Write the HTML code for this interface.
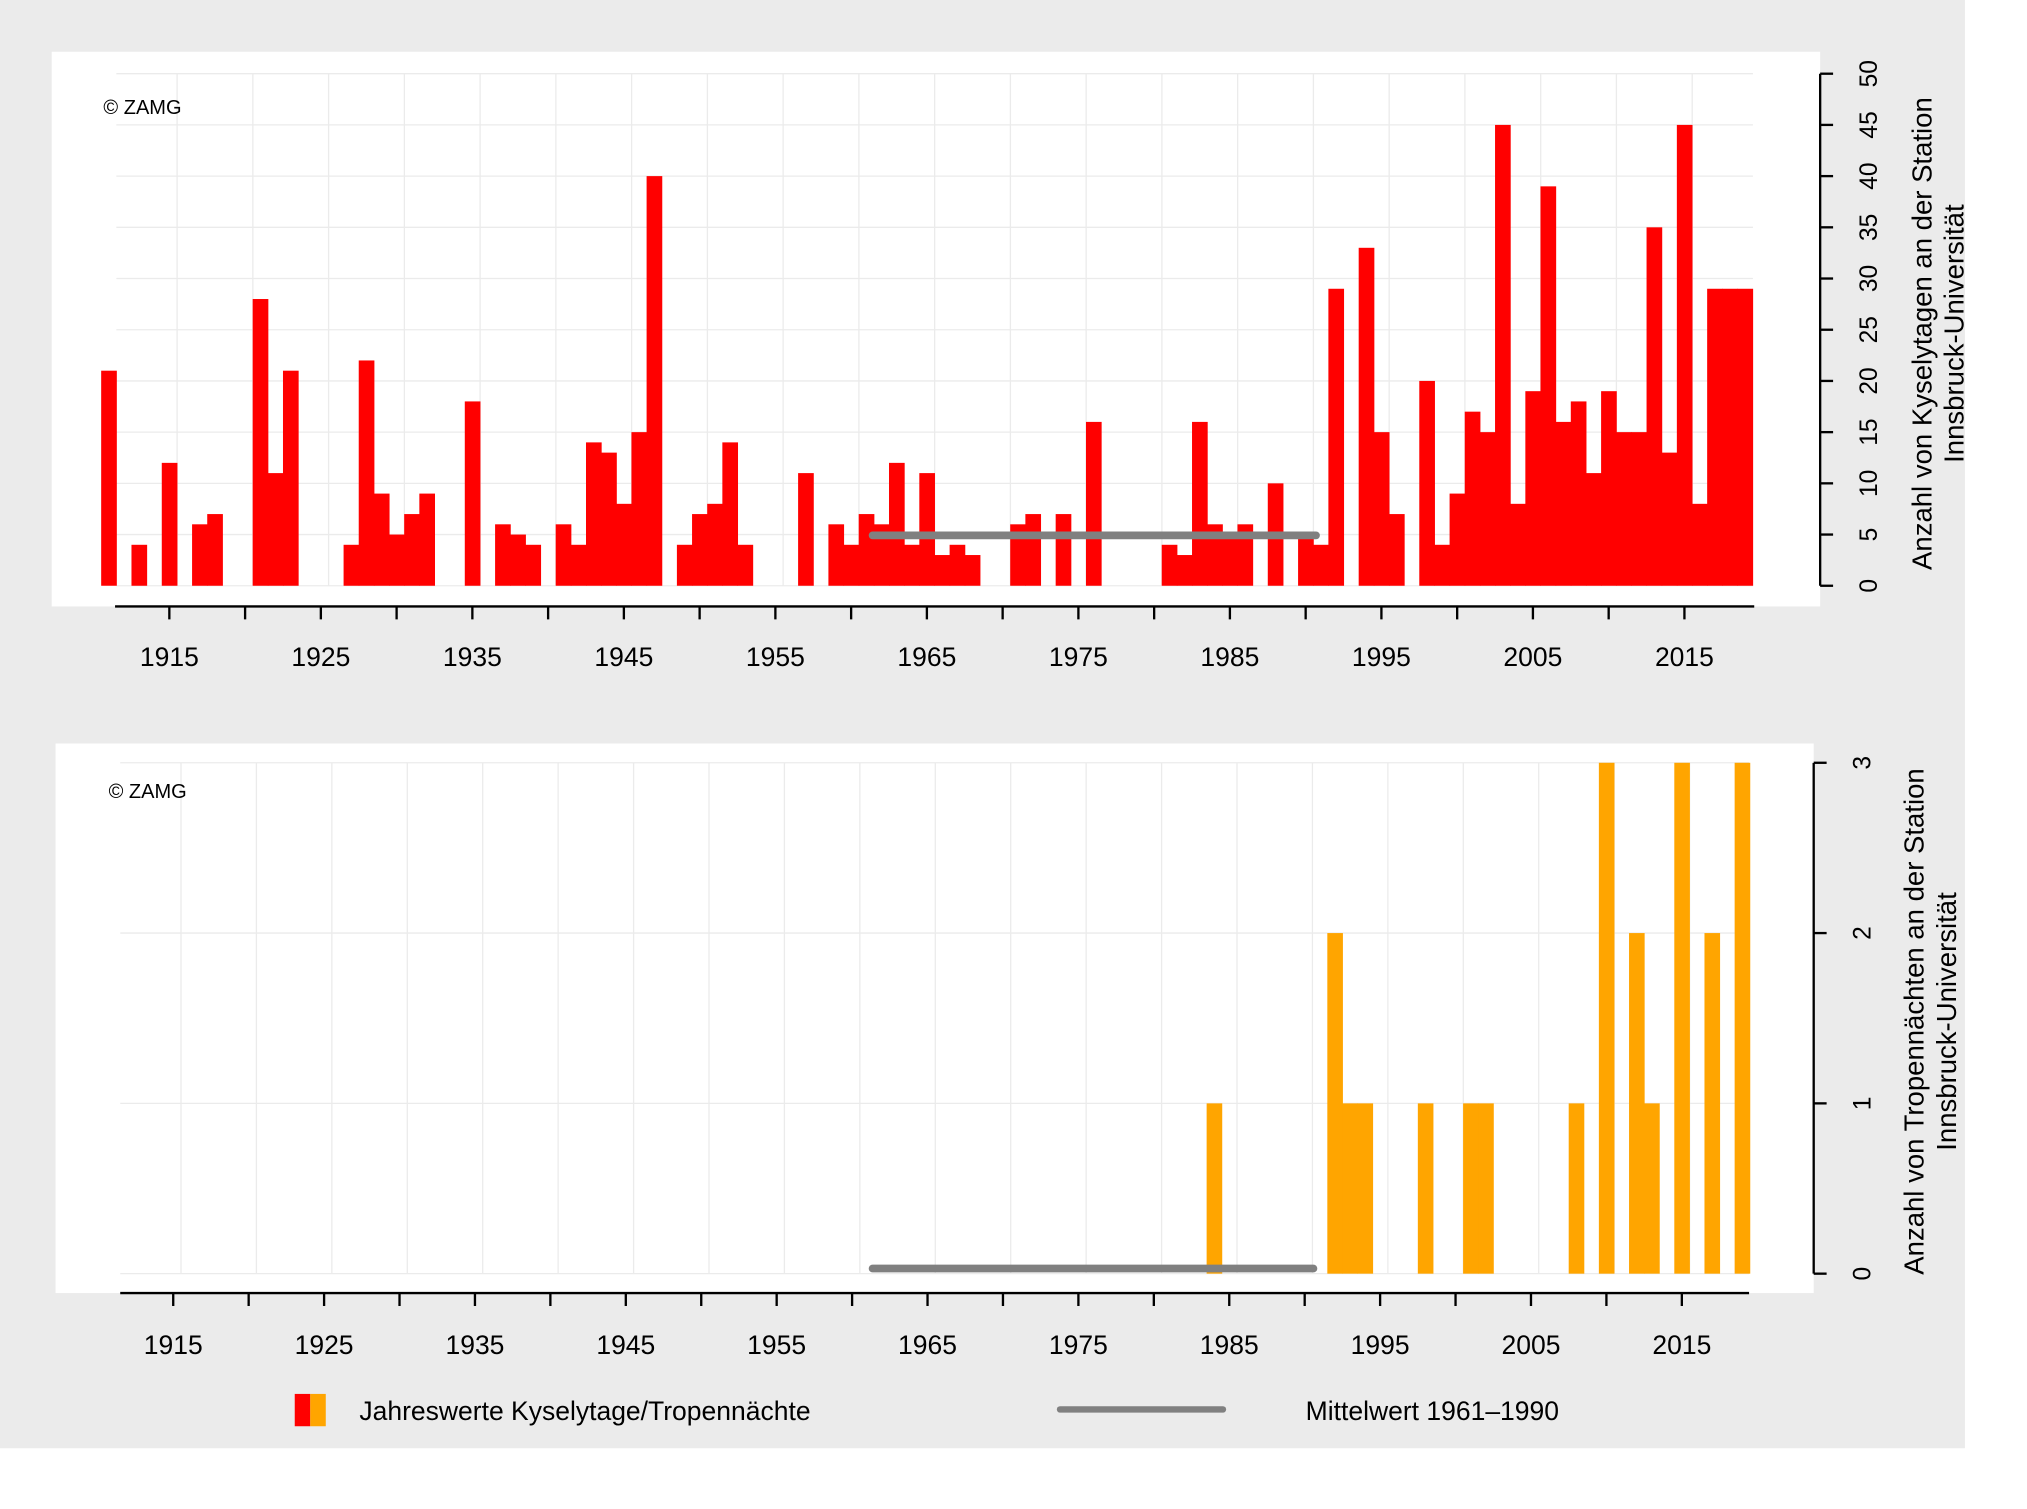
<!DOCTYPE html>
<html><head><meta charset="utf-8"><style>
html,body{margin:0;padding:0;background:#fff;}
svg{display:block;font-family:"Liberation Sans",Arial,sans-serif;}
</style></head><body>
<svg id="s" width="2027" height="1509" viewBox="0 0 1568 1167" preserveAspectRatio="none" xmlns="http://www.w3.org/2000/svg">
<rect x="0" y="0" width="1520" height="1120" fill="#ebebeb"/>
<rect x="40" y="40" width="1368" height="429" fill="#fff"/>
<rect x="43" y="575" width="1360" height="425" fill="#fff"/>
<g id="grid" stroke="#ebebeb" stroke-width="1"></g>
<g id="bars"></g>
<line x1="675" y1="414" x2="1018" y2="414" stroke="#808080" stroke-width="6" stroke-linecap="round"/>
<line x1="675" y1="981" x2="1016" y2="981" stroke="#808080" stroke-width="6" stroke-linecap="round"/>
<g id="axes" stroke="#000" stroke-width="1.8" fill="none"></g>
<g id="txt" font-size="19" fill="#000"></g>
<text x="80" y="88" font-size="15.5">© ZAMG</text>
<text x="84" y="617" font-size="15.5">© ZAMG</text>
<text transform="translate(1494,258) rotate(-90)" text-anchor="middle" font-size="21.3">Anzahl von Kyselytagen an der Station</text>
<text transform="translate(1519,258) rotate(-90)" text-anchor="middle" font-size="21.3">Innsbruck-Universität</text>
<text transform="translate(1488,790) rotate(-90)" text-anchor="middle" font-size="21.3">Anzahl von Tropennächten an der Station</text>
<text transform="translate(1513,790) rotate(-90)" text-anchor="middle" font-size="21.3">Innsbruck-Universität</text>
<rect x="228" y="1078" width="12" height="25" fill="#ff0000"/>
<rect x="240" y="1078" width="12" height="25" fill="#ffa500"/>
<text x="278" y="1098" font-size="20.5">Jahreswerte Kyselytage/Tropennächte</text>
<line x1="820" y1="1090" x2="946" y2="1090" stroke="#808080" stroke-width="5" stroke-linecap="round"/>
<text x="1010" y="1098" font-size="20.5">Mittelwert 1961–1990</text>
</svg>
<script>
(function(){
var NS="http://www.w3.org/2000/svg";
function el(p,t,a,txt){var e=document.createElementNS(NS,t);for(var k in a)e.setAttribute(k,a[k]);if(txt!=null)e.textContent=txt;document.getElementById(p).appendChild(e);return e;}
var dTop={1911:21,1913:4,1915:12,1917:6,1918:7,1921:28,1922:11,1923:21,1927:4,1928:22,1929:9,1930:5,1931:7,1932:9,1935:18,1937:6,1938:5,1939:4,1941:6,1942:4,1943:14,1944:13,1945:8,1946:15,1947:40,1949:4,1950:7,1951:8,1952:14,1953:4,1957:11,1959:6,1960:4,1961:7,1962:6,1963:12,1964:4,1965:11,1966:3,1967:4,1968:3,1971:6,1972:7,1974:7,1976:16,1981:4,1982:3,1983:16,1984:6,1985:5,1986:6,1988:10,1990:5,1991:4,1992:29,1994:33,1995:15,1996:7,1998:20,1999:4,2000:9,2001:17,2002:15,2003:45,2004:8,2005:19,2006:39,2007:16,2008:18,2009:11,2010:19,2011:15,2012:15,2013:35,2014:13,2015:45,2016:8,2017:29,2018:29,2019:29};
var dBot={1984:1,1992:2,1993:1,1994:1,1998:1,2001:1,2002:1,2008:1,2010:3,2012:2,2013:1,2015:3,2017:2,2019:3};
var w1=11.72,w2=11.67,v,y,x,i,yr,c,h;
for(v=0;v<=50;v+=5){y=453-v*7.92;el("grid","line",{x1:90,y1:y,x2:1356,y2:y});}
for(i=0;i<21;i++){x=137+i*58.6;if(x<1356)el("grid","line",{x1:x,y1:57,x2:x,y2:453});}
for(v=0;v<=3;v++){y=985-v*131.7;el("grid","line",{x1:93,y1:y,x2:1353,y2:y});}
for(i=0;i<21;i++){x=140+i*58.35;if(x<1353)el("grid","line",{x1:x,y1:590,x2:x,y2:985});}
for(yr in dTop){c=131+(Number(yr)-1915)*w1;h=dTop[yr]*7.92;el("bars","rect",{x:c-w1/2,y:453-h,width:w1+0.4,height:h,fill:"#ff0000"});}
for(yr in dBot){c=134+(Number(yr)-1915)*w2;h=dBot[yr]*131.7;el("bars","rect",{x:c-w2/2,y:985-h,width:w2+0.4,height:h,fill:"#ffa500"});}
el("axes","line",{x1:1408,y1:57,x2:1408,y2:453});
for(v=0;v<=50;v+=5){y=453-v*7.92;el("axes","line",{x1:1408,y1:y,x2:1418,y2:y});
 el("txt","text",{transform:"translate(1452,"+y+") rotate(-90)","text-anchor":"middle"},v);}
el("axes","line",{x1:1403,y1:590,x2:1403,y2:985});
for(v=0;v<=3;v++){y=985-v*131.7;el("axes","line",{x1:1403,y1:y,x2:1413,y2:y});
 el("txt","text",{transform:"translate(1447,"+y+") rotate(-90)","text-anchor":"middle"},v);}
el("axes","line",{x1:89,y1:469,x2:1357,y2:469});
for(i=0;i<=20;i++){x=131+i*5*w1;el("axes","line",{x1:x,y1:469,x2:x,y2:479});}
for(yr=1915;yr<=2015;yr+=10){el("txt","text",{x:131+(yr-1915)*w1,y:515,"text-anchor":"middle","font-size":20.5},yr);}
el("axes","line",{x1:93,y1:1000,x2:1353,y2:1000});
for(i=0;i<=20;i++){x=134+i*5*w2;el("axes","line",{x1:x,y1:1000,x2:x,y2:1010});}
for(yr=1915;yr<=2015;yr+=10){el("txt","text",{x:134+(yr-1915)*w2,y:1047,"text-anchor":"middle","font-size":20.5},yr);}
})();
</script>
</body></html>
